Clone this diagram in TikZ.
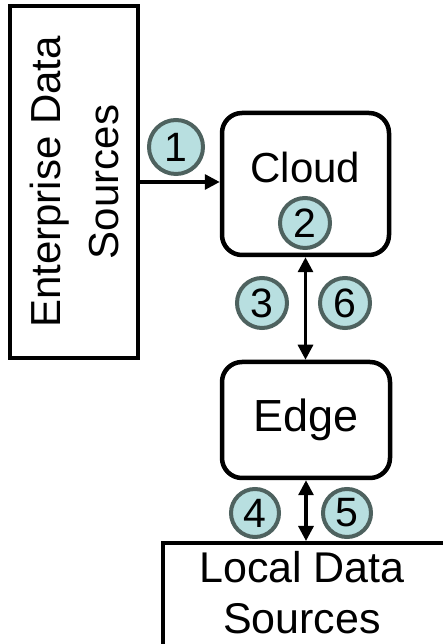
\documentclass[tikz,border=0pt]{standalone}
\usepackage{fontspec}
\setmainfont{Liberation Sans}
\usetikzlibrary{arrows.meta}
\definecolor{badgefill}{HTML}{B8DFE0}
\definecolor{badgeline}{HTML}{4E625F}
\tikzset{
  box/.style={draw=black, line width=4.5pt, fill=white, inner sep=0pt},
  roundbox/.style={box, rounded corners=20pt},
  label text/.style={font=\fontsize{42}{50}\selectfont, align=center, inner sep=0pt},
  badge/.style={circle, draw=badgeline, fill=badgefill, line width=4pt,
    minimum size=50pt, inner sep=0pt, font=\fontsize{41}{41}\selectfont},
  link/.style={line width=3.2pt, -{Triangle[length=15pt,width=15pt]}},
  duplex/.style={line width=3.2pt, {Triangle[length=15pt,width=15pt]}-{Triangle[length=15pt,width=15pt]}}
}
\begin{document}
\begin{tikzpicture}[x=1pt,y=1pt]
\useasboundingbox (0,0) rectangle (443,644);
\clip (0,0) rectangle (443,644);
\fill[white] (0,0) rectangle (443,644);

% enterprise sources, text running upwards
\node[box, label text, rotate=90, minimum width=352pt, minimum height=128pt]
  (ent) at (74,462) {Enterprise Data\\[8pt]Sources};

% cloud and edge tiers
\node[roundbox, label text, minimum width=167pt, minimum height=142pt, text depth=34pt]
  (cloud) at (305.5,460) {Cloud};
\node[roundbox, label text, font=\fontsize{45}{50}\selectfont, minimum width=168pt, minimum height=116pt]
  (edge) at (306,224) {Edge};

% local sources, running off the lower right corner
\node[box, line width=4pt, minimum width=310pt, minimum height=125pt]
  (local) at (318,38.5) {};
\node[label text, font=\fontsize{43}{51}\selectfont] (localtxt) at (302,51) {Local Data\\Sources};

% connectors
\draw[link] (ent.south) -- (ent.south -| cloud.west);
\draw[duplex] (cloud.south) -- (cloud.south |- edge.north);
\draw[duplex] (edge.south) -- (edge.south |- local.north);

% numbered steps
\node[badge, minimum size=54pt] (s1) at (176,497) {1};
\node[badge] (s2) at (305,421) {2};
\node[badge] (s3) at (262,341) {3};
\node[badge] (s6) at (345,341) {6};
\node[badge, minimum size=48pt] (s4) at (255,131) {4};
\node[badge, minimum size=48pt] (s5) at (347,131) {5};
\end{tikzpicture}
\end{document}
